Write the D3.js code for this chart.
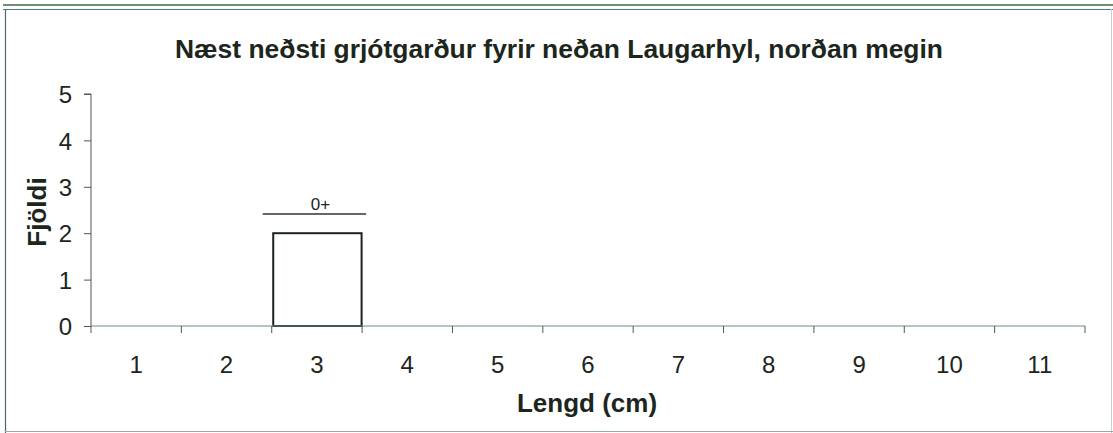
<!DOCTYPE html>
<html><head><meta charset="utf-8">
<script src="https://cdn.jsdelivr.net/npm/d3@7"></script>
<style>body{margin:0;background:#fff}svg{display:block}text{font-family:"Liberation Sans",Arial,sans-serif}</style>
</head><body>
<svg id="c" width="1113" height="433"></svg>
<script>
const categories = ["1","2","3","4","5","6","7","8","9","10","11"];
const counts = [0,0,2,0,0,0,0,0,0,0,0];
const yTicks = [0,1,2,3,4,5];
const groupLabel = {text:"0+", from:"3", to:"3"};
const title = "Næst neðsti grjótgarður fyrir neðan Laugarhyl, norðan megin";
const xTitle = "Lengd (cm)";
const yTitle = "Fjöldi";

const svg = d3.select("#c");
const ink = "#1c261c";
const m = {l:91, r:1085, t:94, b:326};
// frame
svg.append("line").attr("x1",3).attr("x2",1113).attr("y1",5).attr("y2",5).attr("stroke","#3d6b4a").attr("stroke-width",1.5);
svg.append("line").attr("x1",3).attr("x2",1113).attr("y1",9.5).attr("y2",9.5).attr("stroke","#557a8a").attr("stroke-width",1.2);
svg.append("line").attr("x1",5.5).attr("x2",5.5).attr("y1",9).attr("y2",433).attr("stroke","#4a6a6a").attr("stroke-width",1.2);
svg.append("line").attr("x1",1111.5).attr("x2",1111.5).attr("y1",9).attr("y2",433).attr("stroke","#c8d0d0").attr("stroke-width",1);
svg.append("line").attr("x1",5).attr("x2",1113).attr("y1",431.5).attr("y2",431.5).attr("stroke","#9aa8a8").attr("stroke-width",1);

const x = d3.scaleBand().domain(categories).range([m.l,m.r]).padding(0);
const y = d3.scaleLinear().domain([0,5]).range([m.b,m.t]);

// bars
svg.selectAll("rect.bar").data(categories.map((c,i)=>({c,v:counts[i]})).filter(d=>d.v>0))
  .enter().append("rect").attr("class","bar")
  .attr("x",d=>x(d.c)+1.5).attr("width",x.bandwidth()-2)
  .attr("y",d=>y(d.v)).attr("height",d=>y(0)-y(d.v))
  .attr("fill","#fff").attr("stroke","#1a241a").attr("stroke-width",2);

// y axis
const ya = d3.axisLeft(y).tickValues(yTicks).tickSize(7).tickPadding(12).tickFormat(d3.format("d"));
const gy = svg.append("g").attr("transform",`translate(${m.l},0)`).call(ya);
gy.attr("font-size",null).attr("font-family",null);
gy.select(".domain").attr("stroke","#555").attr("stroke-width",1).attr("d",`M-7,${m.t}H0V${m.b}`);
gy.selectAll(".tick line").attr("stroke","#555");
gy.selectAll(".tick text").style("font-size","24px").attr("fill",ink).attr("dy","0.36em");

// x axis
const gx = svg.append("g").attr("transform",`translate(0,${m.b})`);
gx.append("line").attr("x1",m.l).attr("x2",m.r).attr("y1",0).attr("y2",0).attr("stroke","#6a8a94").attr("stroke-width",1.2);
const bounds = categories.map(c=>x(c)).concat([m.r]);
gx.selectAll("line.tk").data(bounds).enter().append("line").attr("class","tk")
  .attr("x1",d=>d).attr("x2",d=>d).attr("y1",0).attr("y2",7).attr("stroke","#555");
gx.selectAll("text").data(categories).enter().append("text")
  .attr("x",d=>x(d)+x.bandwidth()/2).attr("y",47).attr("text-anchor","middle")
  .style("font-size","24px").attr("fill",ink).text(d=>d);

// group label
const gx0 = x(groupLabel.from)-9, gx1 = x(groupLabel.to)+x.bandwidth()+4;
svg.append("line").attr("x1",gx0).attr("x2",gx1).attr("y1",214).attr("y2",214).attr("stroke","#333").attr("stroke-width",1.5);
svg.append("text").attr("x",(gx0+gx1)/2+6).attr("y",210)
  .attr("text-anchor","middle").style("font-size","17px").attr("fill",ink).text(groupLabel.text);

// titles
svg.append("text").attr("x",559).attr("y",58).attr("text-anchor","middle").style("font-size","25.5px")
  .attr("textLength",768).attr("lengthAdjust","spacingAndGlyphs")
  .attr("font-weight","bold").attr("fill",ink).text(title);
svg.append("text").attr("x",587).attr("y",412).attr("text-anchor","middle").style("font-size","26px")
  .attr("font-weight","bold").attr("fill",ink).text(xTitle);
svg.append("text").attr("transform",`translate(46,212) rotate(-90)`).attr("text-anchor","middle")
  .style("font-size","26px").attr("font-weight","bold").attr("fill",ink).text(yTitle);
</script>
</body></html>
